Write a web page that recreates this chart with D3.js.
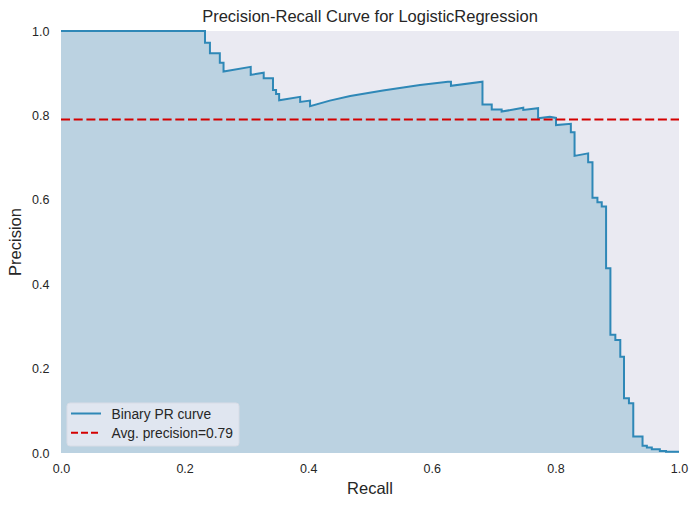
<!DOCTYPE html>
<html><head><meta charset="utf-8">
<script src="https://cdn.jsdelivr.net/npm/d3@7"></script>
<style>body{margin:0;background:#fff;} svg{display:block;font-family:"Liberation Sans",Arial,sans-serif;}</style>
</head><body><div id="chart"></div>
<script>
const recall = [0.000,0.233,0.233,0.241,0.241,0.257,0.257,0.263,0.263,0.307,0.307,0.328,0.328,0.343,0.343,0.348,0.348,0.353,0.353,0.387,0.387,0.403,0.403,0.435,0.468,0.521,0.581,0.626,0.631,0.631,0.682,0.682,0.697,0.697,0.713,0.713,0.748,0.748,0.772,0.772,0.791,0.801,0.801,0.825,0.825,0.831,0.831,0.853,0.853,0.860,0.860,0.868,0.868,0.875,0.875,0.882,0.882,0.889,0.889,0.897,0.897,0.905,0.905,0.911,0.911,0.919,0.919,0.926,0.926,0.941,0.941,0.948,0.948,0.956,0.956,0.969,0.969,0.979,0.979,1.000];
const precision = [1.000,1.000,0.972,0.972,0.947,0.947,0.925,0.925,0.904,0.915,0.896,0.901,0.888,0.888,0.860,0.860,0.851,0.851,0.836,0.844,0.832,0.835,0.822,0.835,0.846,0.859,0.872,0.880,0.880,0.870,0.880,0.826,0.826,0.814,0.814,0.809,0.818,0.813,0.817,0.793,0.797,0.794,0.777,0.780,0.760,0.760,0.704,0.710,0.689,0.689,0.605,0.605,0.594,0.594,0.584,0.584,0.438,0.438,0.280,0.280,0.268,0.268,0.228,0.228,0.130,0.130,0.118,0.118,0.039,0.039,0.017,0.017,0.013,0.013,0.009,0.009,0.005,0.005,0.003,0.003];
const avgPrecision = 0.79;
const xTicks = [0.0,0.2,0.4,0.6,0.8,1.0];
const yTicks = [0.0,0.2,0.4,0.6,0.8,1.0];
const title = "Precision-Recall Curve for LogisticRegression";
const legendLabels = ["Binary PR curve", "Avg. precision=" + avgPrecision.toFixed(2)];

const W = 699, H = 506;
const m = {left:61, right:20, top:31, bottom:53};
const svg = d3.select("#chart").append("svg").attr("width",W).attr("height",H);
const x = d3.scaleLinear().domain([0,1]).range([m.left, W-m.right]);
const y = d3.scaleLinear().domain([0,1]).range([H-m.bottom, m.top]);
const pts = recall.map((r,i)=>[r,precision[i]]);

svg.append("rect").attr("x",x(0)).attr("y",y(1)).attr("width",x(1)-x(0)).attr("height",y(0)-y(1)).attr("fill","#eaeaf2");

svg.append("path").datum(pts)
  .attr("d", d3.area().x(d=>x(d[0])).y0(y(0)).y1(d=>y(d[1])))
  .attr("fill","#bbd2e1");
svg.append("path").datum(pts)
  .attr("d", d3.line().x(d=>x(d[0])).y(d=>y(d[1])))
  .attr("fill","none").attr("stroke","#2f88b7").attr("stroke-width",2);

svg.append("line").attr("x1",x(0)).attr("x2",x(1)).attr("y1",y(avgPrecision)).attr("y2",y(avgPrecision))
  .attr("stroke","#d40000").attr("stroke-width",2).attr("stroke-dasharray","9,3.7");

const xa = svg.append("g").attr("transform",`translate(0,${y(0)})`)
  .call(d3.axisBottom(x).tickValues(xTicks).tickFormat(d3.format(".1f")).tickSize(0).tickPadding(11));
const ya = svg.append("g").attr("transform",`translate(${x(0)},0)`)
  .call(d3.axisLeft(y).tickValues(yTicks).tickFormat(d3.format(".1f")).tickSize(0).tickPadding(11.5));
[xa,ya].forEach(a=>{a.select(".domain").remove(); a.selectAll("text").attr("font-size",12.5).attr("fill","#262626").style("font-family","Liberation Sans, Arial, sans-serif");});

svg.append("text").attr("x",(x(0)+x(1))/2).attr("y",22).attr("text-anchor","middle")
  .attr("font-size",16.5).attr("fill","#262626").text(title);
svg.append("text").attr("x",(x(0)+x(1))/2).attr("y",494).attr("text-anchor","middle")
  .attr("font-size",16.5).attr("fill","#262626").text("Recall");
svg.append("text").attr("transform",`translate(21,${(y(0)+y(1))/2}) rotate(-90)`).attr("text-anchor","middle")
  .attr("font-size",16.5).attr("fill","#262626").text("Precision");

const lg = svg.append("g").attr("transform",`translate(${x(0)+6},${y(0)-50})`);
lg.append("rect").attr("width",172).attr("height",43).attr("rx",3).attr("fill","#e2e7f0").attr("fill-opacity",0.95).attr("stroke","#d8dce6");
lg.append("line").attr("x1",4).attr("x2",34).attr("y1",10.5).attr("y2",10.5).attr("stroke","#2f88b7").attr("stroke-width",2);
lg.append("line").attr("x1",4).attr("x2",34).attr("y1",29.7).attr("y2",29.7).attr("stroke","#d40000").attr("stroke-width",2).attr("stroke-dasharray","7,3");
legendLabels.forEach((t,i)=>lg.append("text").attr("x",44.5).attr("y",16.3+18.2*i).attr("font-size",13.8).attr("fill","#262626").text(t));
</script></body></html>
